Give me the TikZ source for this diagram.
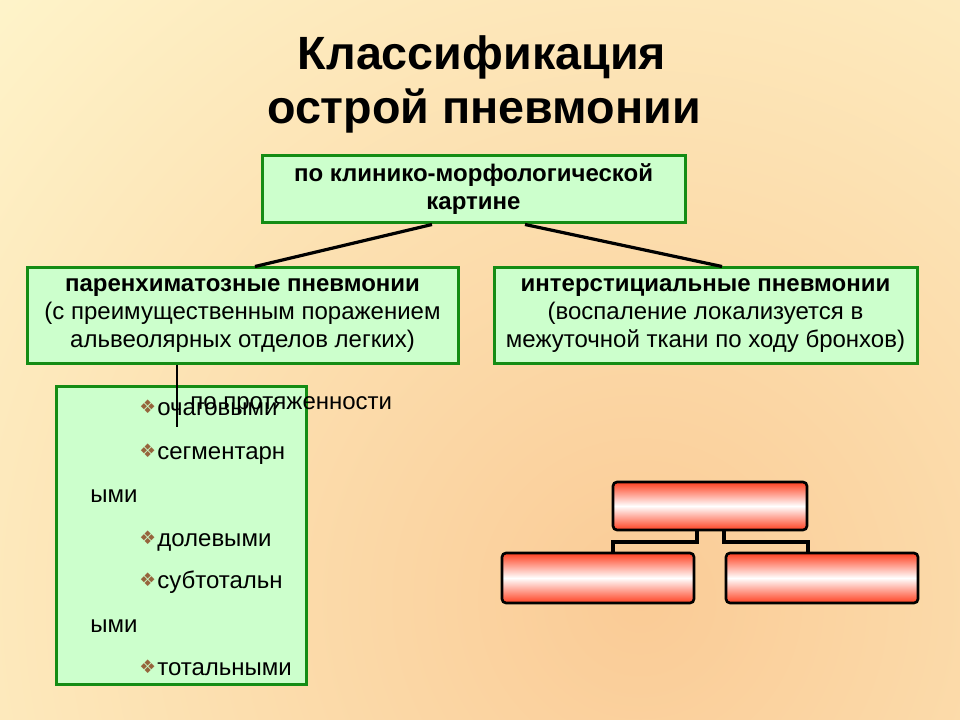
\documentclass[tikz,border=0pt]{standalone}
\usepackage{fontspec}
\setmainfont{Liberation Sans}
\newfontfamily\symfont{DejaVu Sans}
\usetikzlibrary{positioning,calc}

\definecolor{cream}{RGB}{255,252,212}
\definecolor{peach}{RGB}{250,203,150}
\definecolor{grfill}{RGB}{204,255,204}
\definecolor{grline}{RGB}{20,140,20}
\definecolor{redish}{RGB}{255,64,32}
\definecolor{bulbrown}{RGB}{150,100,60}

\newcommand\bul{{\symfont\fontsize{14}{14}\selectfont\color{bulbrown}\raisebox{1pt}{❖}}\hspace{1pt}}

\tikzset{
  grbox/.style={draw=grline, fill=grfill, line width=2.25pt, align=center,
    inner sep=0pt, font=\fontsize{18}{21}\selectfont},
  link/.style={line width=2.4pt},
  redbox/.style={draw=black, line width=2pt, rounded corners=3pt,
    top color=redish, bottom color=redish, middle color=white},
  item/.style={anchor=base west, inner sep=0pt, font=\fontsize{18}{21}\selectfont},
}

\begin{document}
\begin{tikzpicture}[x=0.75pt,y=-0.75pt]
  \useasboundingbox (0,0) rectangle (960,720);
  % background
  \begin{scope}
    \clip (0,0) rectangle (960,720);
    \fill[cream] (0,0) rectangle (960,720);
    \shade[inner color=peach, outer color=cream] (-420,-460) rectangle (1700,1660);
  \end{scope}

  % title
  \node[anchor=base, inner sep=0pt, font=\bfseries\fontsize{35}{40}\selectfont] (title1) at (482,70) {Классификация};
  \node[anchor=base, inner sep=0pt, font=\bfseries\fontsize{35}{40}\selectfont] (title2) at (484,124) {острой пневмонии};

  % green boxes
  \node[grbox, minimum width=317.25pt, minimum height=50.25pt] (clin) at (473.5,189.5)
    {\bfseries по клинико-морфологической\\ \bfseries картине};
  \node[grbox, minimum width=323.25pt, minimum height=71.25pt] (paren) at (242.5,315.5)
    {\bfseries паренхиматозные пневмонии\\ (с преимущественным поражением\\ альвеолярных отделов легких)};
  \node[grbox, minimum width=317.25pt, minimum height=71.25pt] (inter) at (705.5,315.5)
    {\bfseries интерстициальные пневмонии\\ (воспаление локализуется в\\ межуточной ткани по ходу бронхов)};
  \draw[link] ($(clin.south)+(-41.5,0)$) -- ($(paren.north)+(12.5,0)$);
  \draw[link] ($(clin.south)+(51.5,0)$) -- ($(inter.north)+(16.5,0)$);

  % list
  \node[grbox, minimum width=187.5pt, minimum height=223.5pt] (lst) at (181.5,535) {};
  \coordinate (vend) at (177,427);
  \draw[line width=1.6pt] (vend |- paren.south) -- (vend);
  \node[item] (len) at (190,409) {по протяженности};
  \foreach \n/\y/\t in {1/415/очаговыми, 2/459/сегментарн, 4/546/долевыми, 5/588/субтотальн, 7/675/тотальными}
    \node[item] (it\n) at (139,\y) {\bul\t};
  \foreach \n/\y in {3/502, 6/632}
    \node[item] (it\n) at (90,\y) {ыми};

  % red boxes
  \node[redbox, minimum width=145.5pt, minimum height=36pt] (rtop) at (710,506) {};
  \node[redbox, minimum width=144pt, minimum height=37.5pt] (rleft) at (598,578) {};
  \node[redbox, minimum width=144pt, minimum height=37.5pt] (rright) at (822,578) {};
  \coordinate (jl) at (613,542);
  \coordinate (jr) at (808,542);
  \draw[link] ($(rtop.south)+(-13,0)$) |- (jl) -- (jl |- rleft.north);
  \draw[link] ($(rtop.south)+(14,0)$) |- (jr) -- (jr |- rright.north);
\end{tikzpicture}
\end{document}
